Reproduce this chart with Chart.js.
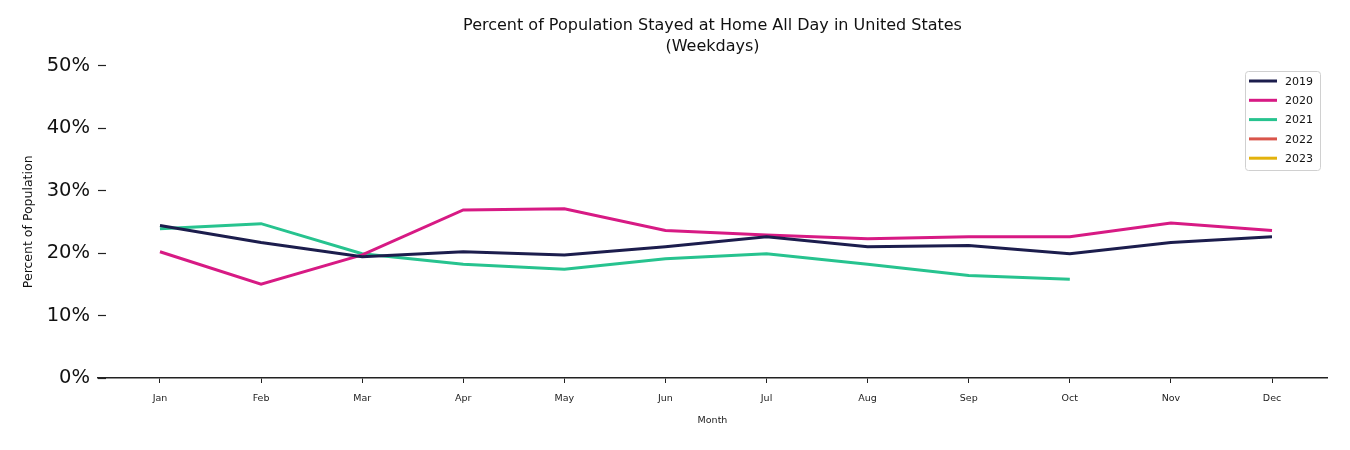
<!DOCTYPE html>
<html lang="en">
<head>
  <meta charset="UTF-8">
  <title>Percent of Population Stayed at Home</title>
  <script src="https://cdn.jsdelivr.net/npm/chart.js"></script>
  <style>
    body { margin: 0; padding: 0; background: #fff; }
    .wrap { width: 1350px; height: 450px; position: relative; }
  </style>
</head>
<body>
<div class="wrap"><canvas id="chart"></canvas></div>
<script>
  const months = ['Jan', 'Feb', 'Mar', 'Apr', 'May', 'Jun', 'Jul', 'Aug', 'Sep', 'Oct', 'Nov', 'Dec'];
  const years = ['2019', '2020', '2021', '2022', '2023'];
  const colors = ['#1c1d4d', '#d71a84', '#27c38f', '#d9554b', '#e3b20c'];
  const y2019 = [24.4, 21.7, 19.4, 20.2, 19.7, 21.0, 22.6, 21.0, 21.2, 19.9, 21.7, 22.6];
  const y2020 = [20.2, 15.0, 19.7, 26.9, 27.1, 23.6, 22.9, 22.3, 22.6, 22.6, 24.8, 23.6];
  const y2021 = [23.9, 24.7, 19.9, 18.2, 17.4, 19.1, 19.9, 18.2, 16.4, 15.8];
  const y2022 = [];
  const y2023 = [];
  const yTicks = [0, 10, 20, 30, 40, 50];

  const series = [y2019, y2020, y2021, y2022, y2023];
  const datasets = series.map((vals, i) => ({
    label: years[i],
    data: vals.map((v, k) => ({ x: k, y: v })),
    borderColor: colors[i],
    backgroundColor: colors[i],
    borderWidth: 3,
    pointRadius: 0,
    tension: 0
  }));

  // matplotlib-like legend box in the upper right
  const boxLegend = {
    id: 'boxLegend',
    afterDraw(chart) {
      const ctx = chart.ctx;
      const x = 1245, y = 71, w = 75, h = 99;
      ctx.save();
      ctx.fillStyle = 'rgba(255,255,255,0.85)';
      ctx.strokeStyle = '#d0d0d0';
      ctx.lineWidth = 1;
      ctx.beginPath();
      ctx.roundRect(x + 0.5, y + 0.5, w, h, 3);
      ctx.fill();
      ctx.stroke();
      ctx.font = '11px "DejaVu Sans"';
      ctx.textBaseline = 'middle';
      chart.data.datasets.forEach((ds, i) => {
        const cy = y + 10 + i * 19.3;
        ctx.strokeStyle = ds.borderColor;
        ctx.lineWidth = 3;
        ctx.beginPath();
        ctx.moveTo(x + 4, cy);
        ctx.lineTo(x + 32, cy);
        ctx.stroke();
        ctx.fillStyle = '#111';
        ctx.fillText(ds.label, x + 40, cy + 1);
      });
      ctx.restore();
    }
  };

  new Chart(document.getElementById('chart'), {
    type: 'line',
    data: { datasets },
    plugins: [boxLegend],
    options: {
      responsive: true,
      maintainAspectRatio: false,
      animation: false,
      layout: { padding: { top: 0, right: 23, left: 0, bottom: 0 } },
      plugins: {
        legend: { display: false },
        tooltip: { enabled: false },
        title: {
          display: true,
          fullSize: false,
          text: 'Percent of Population Stayed at Home All Day in United States',
          color: '#111',
          font: { family: 'DejaVu Sans', size: 16, weight: 'normal', lineHeight: 1.3 },
          padding: { top: 15, bottom: 0 }
        },
        subtitle: {
          display: true,
          fullSize: false,
          text: '(Weekdays)',
          color: '#111',
          font: { family: 'DejaVu Sans', size: 16, weight: 'normal', lineHeight: 1.3 },
          padding: { top: 1, bottom: 8 }
        }
      },
      scales: {
        x: {
          type: 'linear',
          min: -0.613,
          max: 11.544,
          afterBuildTicks: s => { s.ticks = months.map((m, i) => ({ value: i })); },
          afterFit: s => { s.height = 72; },
          border: { display: true, color: '#222', width: 1.5 },
          grid: { display: true, drawOnChartArea: false, tickLength: 5, color: '#222', tickWidth: 1 },
          ticks: {
            autoSkip: false,
            maxRotation: 0,
            padding: 10,
            color: '#222',
            font: { family: 'DejaVu Sans', size: 9.5 },
            callback: v => months[v]
          },
          title: {
            display: true,
            text: 'Month',
            color: '#222',
            font: { family: 'DejaVu Sans', size: 9.5 },
            padding: { top: 2, bottom: 24 }
          }
        },
        y: {
          min: 0,
          max: 50,
          afterBuildTicks: s => { s.ticks = yTicks.map(v => ({ value: v })); },
          afterFit: s => { s.width = 98; },
          border: { display: false },
          grid: { display: true, drawOnChartArea: false, tickLength: -8, color: '#222', tickWidth: 1.2 },
          ticks: {
            padding: 16,
            color: '#111',
            font: { family: 'DejaVu Sans', size: 19.5 },
            callback: v => v + '%'
          },
          title: {
            display: true,
            text: 'Percent of Population',
            color: '#111',
            font: { family: 'DejaVu Sans', size: 12.5 },
            padding: { top: 21, bottom: 0 }
          }
        }
      }
    }
  });
</script>
</body>
</html>
